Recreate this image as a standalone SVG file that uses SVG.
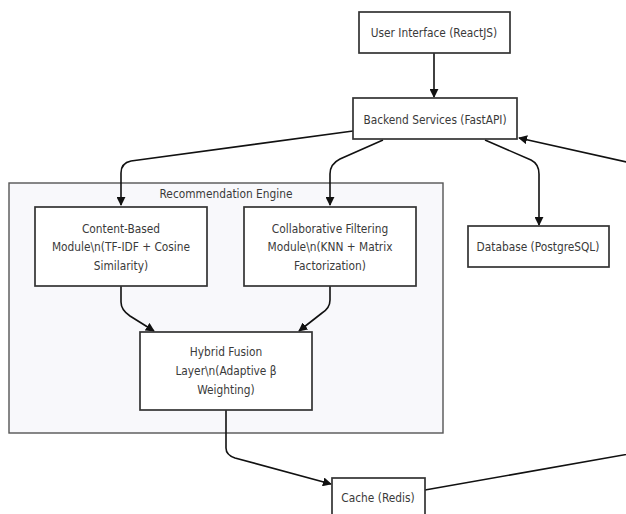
<svg xmlns="http://www.w3.org/2000/svg" width="626" height="514" viewBox="0 0 626 514">
<defs>
<marker id="arr" viewBox="0 0 10 10" refX="9" refY="5" markerWidth="9" markerHeight="9" orient="auto" markerUnits="userSpaceOnUse">
<path d="M0,0 L10,5 L0,10 z" fill="#111"/>
</marker>
</defs>
<style>
.node rect{fill:#fff;stroke:#333;stroke-width:1.7}
.cluster rect{fill:#f8f8fb;stroke:#555;stroke-width:1.4}
text{font-family:"DejaVu Sans Condensed","Liberation Sans Narrow","Liberation Sans",sans-serif;font-size:11.8px;fill:#3a3a3a;text-anchor:middle;dominant-baseline:central}
.edges path{fill:none;stroke:#111;stroke-width:1.6;marker-end:url(#arr)}
</style>
<rect width="626" height="514" fill="#fff"/>
<g id="recommendation-engine" class="cluster">
<rect x="9" y="183" width="434" height="250"/>
<text x="226" y="194">Recommendation Engine</text>
</g>
<g class="edges">
<path d="M434,53 L434,97"/>
<path d="M353,131 L131,161 Q121,163 121,173 L121,205"/>
<path d="M383,140 L340,159 Q330,164 330,174 L330,205"/>
<path d="M485,140 L531,160 Q539,164 539,174 L539,225"/>
<path d="M121,286 L121,302 Q121,310 130,316 L154,331"/>
<path d="M330,286 L330,300 Q330,308 322,313 L299,331"/>
<path d="M226,410 L226,448 Q226,455 235,458 L331,484"/>
<path d="M425,490 L640,452 L640,165 L519,138"/>
</g>
<g id="user-interface" class="node">
<rect x="359" y="12" width="151" height="41"/>
<text x="434" y="33">User Interface (ReactJS)</text>
</g>
<g id="backend" class="node">
<rect x="353" y="98" width="164" height="41"/>
<text x="435" y="120">Backend Services (FastAPI)</text>
</g>
<g id="database" class="node">
<rect x="468" y="226" width="141" height="41"/>
<text x="538" y="247">Database (PostgreSQL)</text>
</g>
<g id="content-based" class="node">
<rect x="35" y="207" width="172" height="79"/>
<text x="121" y="229">Content-Based</text>
<text x="121" y="247">Module\n(TF-IDF + Cosine</text>
<text x="121" y="266">Similarity)</text>
</g>
<g id="collaborative" class="node">
<rect x="244" y="207" width="172" height="79"/>
<text x="330" y="229">Collaborative Filtering</text>
<text x="330" y="247">Module\n(KNN + Matrix</text>
<text x="330" y="266">Factorization)</text>
</g>
<g id="hybrid" class="node">
<rect x="140" y="332" width="172" height="78"/>
<text x="226" y="352">Hybrid Fusion</text>
<text x="226" y="371">Layer\n(Adaptive β</text>
<text x="226" y="390">Weighting)</text>
</g>
<g id="cache" class="node">
<rect x="332" y="478" width="93" height="42"/>
<text x="378" y="498">Cache (Redis)</text>
</g>
</svg>
